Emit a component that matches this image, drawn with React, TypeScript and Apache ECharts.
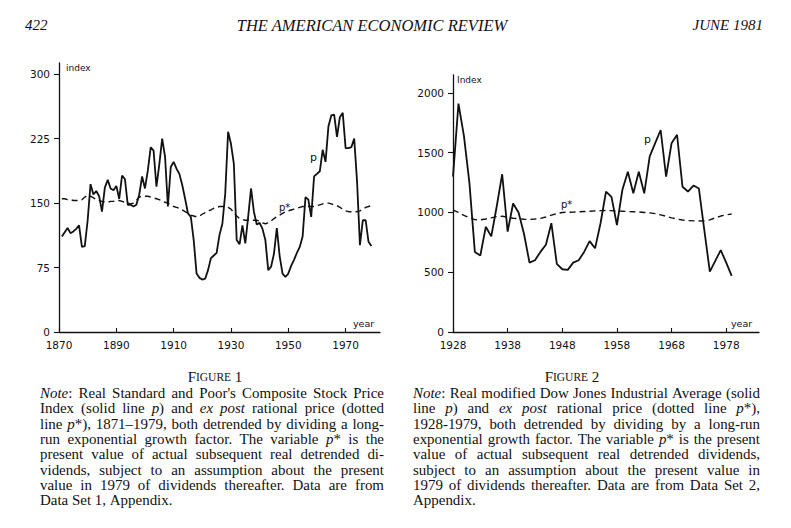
import React, { useEffect, useRef } from "react";
import * as echarts from "echarts";

const W = 791;
const H = 528;
const INK = "#111111";
const SERIF = '"Liberation Serif", "Times New Roman", serif';
const SANS = '"DejaVu Sans", sans-serif';

// ---------- Figure 1 data (S&P, 1871-1979) ----------
const fig1Start = 1871;
const fig1P = [
  111, 116, 121, 115, 117, 120, 124, 99, 100, 130,
  172, 160, 164, 158, 140, 168, 177, 167, 165, 170,
  155, 182, 178, 148, 148, 146, 148, 160, 181, 167,
  188, 215, 211, 169, 195, 225, 204, 146, 192, 198,
  190, 184, 171, 155, 138, 134, 107, 68, 63, 61,
  62, 72, 86, 89, 92, 113, 126, 161, 233, 219,
  196, 107, 102, 124, 103, 134, 167, 140, 125, 127,
  120, 107, 72, 76, 91, 121, 88, 68, 64, 68,
  77, 84, 92, 99, 111, 157, 154, 134, 181, 184,
  187, 212, 198, 239, 252, 253, 227, 250, 255, 214,
  214, 215, 225, 175, 101, 130, 130, 105, 100,
];
const fig1PStar = [
  155, 155, 154, 154, 153, 153, 153, 154, 157, 159,
  158, 156, 154, 153, 152, 151, 151, 152, 152, 153,
  153, 152, 151, 150, 149, 150, 153, 157, 158, 158,
  158, 157, 156, 155, 154, 152, 151, 150, 148, 146,
  145, 144, 142, 140, 138, 136, 135, 134, 135, 137,
  139, 141, 142, 144, 145, 146, 146, 146, 145, 143,
  139, 135, 132, 131, 130, 130, 130, 130, 130, 129,
  127, 126, 127, 129, 132, 134, 136, 138, 140, 141,
  142, 143, 144, 145, 146, 146, 146, 146, 146, 147,
  148, 149, 150, 150, 149, 148, 147, 145, 143, 141,
  140, 140, 140, 140, 141, 143, 145, 146, 147,
];
const fig1YTicks = [0, 75, 150, 225, 300];
const fig1XTicks = [1870, 1890, 1910, 1930, 1950, 1970];

// ---------- Figure 2 data (Dow Jones, 1928-1979) ----------
const fig2Start = 1928;
const fig2P = [
  1300, 1910, 1640, 1250, 670, 640, 880, 800, 1050, 1320,
  840, 1075, 1000, 820, 580, 600, 670, 730, 910, 570,
  525, 520, 580, 600, 670, 760, 700, 910, 1175, 1130,
  895, 1190, 1340, 1160, 1340, 1160, 1470, 1580, 1690, 1300,
  1580, 1650, 1215, 1175, 1225, 1200, 850, 505, 595, 685,
  580, 470,
];
const fig2PStar = [
  1020, 1000, 975, 955, 940, 938, 945, 955, 965, 968,
  960, 952, 948, 943, 942, 945, 950, 962, 978, 990,
  1000, 1002, 1003, 1005, 1008, 1010, 1013, 1015, 1017, 1015,
  1012, 1010, 1008, 1006, 1004, 1000, 997, 990, 980, 968,
  955, 945, 937, 932, 930, 929, 930, 938, 955, 970,
  980, 987,
];
const fig2YTicks = [0, 500, 1000, 1500, 2000];
const fig2XTicks = [1928, 1938, 1948, 1958, 1968, 1978];

// ---------- Text ----------
const headerLeft = "422";
const headerCenter = "THE AMERICAN ECONOMIC REVIEW";
const headerRight = "JUNE 1981";

// underscores mark italic
const note1 = [
  "_Note_: Real Standard and Poor's Composite Stock Price",
  "Index (solid line _p_) and _ex_ _post_ rational price (dotted",
  "line _p_*), 1871–1979, both detrended by dividing a long-",
  "run exponential growth factor. The variable _p_* is the",
  "present value of actual subsequent real detrended di-",
  "vidends, subject to an assumption about the present",
  "value in 1979 of dividends thereafter. Data are from",
  "Data Set 1, Appendix.",
];
const note2 = [
  "_Note_: Real modified Dow Jones Industrial Average (solid",
  "line _p_) and _ex_ _post_ rational price (dotted line _p_*),",
  "1928-1979, both detrended by dividing by a long-run",
  "exponential growth factor. The variable _p_* is the present",
  "value of actual subsequent real detrended dividends,",
  "subject to an assumption about the present value in",
  "1979 of dividends thereafter. Data are from Data Set 2,",
  "Appendix.",
];

function pairs(start: number, vals: number[]) {
  return vals.map((v, i) => [start + i, v]);
}

function parseWord(word: string) {
  const parts = word.split("_");
  const segs: { t: string; i: boolean }[] = [];
  parts.forEach((t, k) => {
    if (t.length) segs.push({ t, i: k % 2 === 1 });
  });
  return segs;
}

let _ctx: CanvasRenderingContext2D | null = null;
function measure(t: string, it: boolean, size: number) {
  if (!_ctx) _ctx = document.createElement("canvas").getContext("2d") as CanvasRenderingContext2D;
  _ctx.font = `${it ? "italic " : ""}${size}px ${SERIF}`;
  return _ctx.measureText(t).width;
}

function fitSize(lines: string[], width: number) {
  const s = 14;
  const nat = Math.max(
    ...lines.slice(0, -1).map((ln) => {
      const ws = ln.split(" ");
      return (
        ws.reduce((a, w) => a + parseWord(w).reduce((b, g) => b + measure(g.t, g.i, s), 0), 0) +
        (ws.length - 1) * measure(" ", false, s)
      );
    })
  );
  return (s * width * 0.99) / nat;
}

function buildNote(lines: string[], x0: number, width: number, y0: number, dy: number, size: number) {
  const rich = {
    n: { fontFamily: SERIF, fontSize: size, fill: INK, fontStyle: "normal" },
    i: { fontFamily: SERIF, fontSize: size, fill: INK, fontStyle: "italic" },
  };
  const els: any[] = [];
  lines.forEach((ln, li) => {
    const words = ln.split(" ");
    const segsList = words.map(parseWord);
    const widths = segsList.map((segs) => segs.reduce((b, g) => b + measure(g.t, g.i, size), 0));
    const total = widths.reduce((a, b) => a + b, 0);
    const last = li === lines.length - 1;
    const gap = last || words.length < 2 ? measure(" ", false, size) : (width - total) / (words.length - 1);
    let x = x0;
    const y = y0 + li * dy;
    segsList.forEach((segs, wi) => {
      els.push({
        type: "text",
        x,
        y,
        silent: true,
        style: {
          text: segs.map((g) => `{${g.i ? "i" : "n"}|${g.t}}`).join(""),
          rich,
          fontFamily: SERIF,
          fontSize: size,
          fill: INK,
          align: "left",
          verticalAlign: "middle",
          textAlign: "left",
          textVerticalAlign: "middle",
        },
      });
      x += widths[wi] + gap;
    });
  });
  return els;
}

function txt(x: number, y: number, text: string, opts: any = {}) {
  const align = opts.align || "left";
  return {
    type: "text",
    x,
    y,
    silent: true,
    style: {
      text,
      fill: INK,
      fontFamily: opts.fontFamily || SANS,
      fontSize: opts.fontSize || 9,
      fontStyle: opts.fontStyle || "normal",
      fontWeight: opts.fontWeight || "normal",
      rich: opts.rich,
      align,
      verticalAlign: "middle",
      textAlign: align,
      textVerticalAlign: "middle",
    },
  };
}

function axisCommon(ticks: number[], isX: boolean) {
  return {
    type: "value",
    axisLine: { show: true, onZero: false, lineStyle: { color: INK, width: 1.3 } },
    axisTick: {
      show: true,
      inside: isX,
      length: isX ? 4 : 5,
      customValues: ticks,
      lineStyle: { color: INK, width: 1.1 },
    },
    axisLabel: {
      show: true,
      customValues: ticks,
      color: INK,
      fontFamily: SANS,
      fontSize: 10.5,
      margin: isX ? 7 : 9,
      formatter: (v: number) => String(v),
    },
    splitLine: { show: false },
  };
}

export default function App() {
  const ref = useRef<HTMLDivElement>(null);
  useEffect(() => {
    if (!ref.current) return;
    const chart = echarts.init(ref.current, null, { renderer: "svg", width: W, height: H });
    const figRich = {
      a: { fontFamily: SERIF, fontSize: 15, fill: INK },
      b: { fontFamily: SERIF, fontSize: 11.5, fill: INK },
    };
    const noteSize = Math.min(fitSize(note1, 344), fitSize(note2, 347));
    const option: any = {
      animation: false,
      backgroundColor: "#ffffff",
      grid: [
        { left: 59, top: 63, width: 321, height: 269 },
        { left: 453, top: 75, width: 306, height: 257 },
      ],
      xAxis: [
        { ...axisCommon(fig1XTicks, true), gridIndex: 0, min: 1870, max: 1982 },
        { ...axisCommon(fig2XTicks, true), gridIndex: 1, min: 1928, max: 1984 },
      ],
      yAxis: [
        { ...axisCommon(fig1YTicks, false), gridIndex: 0, min: 0, max: 313 },
        { ...axisCommon(fig2YTicks, false), gridIndex: 1, min: 0, max: 2150 },
      ],
      series: [
        {
          type: "line",
          name: "p",
          xAxisIndex: 0,
          yAxisIndex: 0,
          data: pairs(fig1Start, fig1P),
          symbol: "none",
          lineStyle: { color: INK, width: 1.8 },
          z: 3,
        },
        {
          type: "line",
          name: "p*",
          xAxisIndex: 0,
          yAxisIndex: 0,
          data: pairs(fig1Start, fig1PStar),
          symbol: "none",
          lineStyle: { color: INK, width: 1.4, type: [6, 4] },
          z: 2,
        },
        {
          type: "line",
          name: "p",
          xAxisIndex: 1,
          yAxisIndex: 1,
          data: pairs(fig2Start, fig2P),
          symbol: "none",
          lineStyle: { color: INK, width: 1.8 },
          z: 3,
        },
        {
          type: "line",
          name: "p*",
          xAxisIndex: 1,
          yAxisIndex: 1,
          data: pairs(fig2Start, fig2PStar),
          symbol: "none",
          lineStyle: { color: INK, width: 1.4, type: [6, 4] },
          z: 2,
        },
      ],
      graphic: {
        elements: [
          txt(25, 25, headerLeft, { fontFamily: SERIF, fontSize: 15, fontStyle: "italic" }),
          txt(372, 25, headerCenter, { fontFamily: SERIF, fontSize: 16.5, fontStyle: "italic", align: "center" }),
          txt(763, 25, headerRight, { fontFamily: SERIF, fontSize: 15, fontStyle: "italic", align: "right" }),
          txt(66, 68, "index", { fontSize: 9 }),
          txt(457, 80, "Index", { fontSize: 9 }),
          txt(353, 323, "year", { fontSize: 9.5 }),
          txt(731, 323, "year", { fontSize: 9.5 }),
          txt(310, 157, "p", { fontSize: 11 }),
          txt(279, 207, "p*", { fontSize: 10 }),
          txt(644, 139, "p", { fontSize: 11 }),
          txt(561, 204, "p*", { fontSize: 10 }),
          txt(215, 377, "{a|F}{b|IGURE} {a|1}", { rich: figRich, fontFamily: SERIF, fontSize: 15, align: "center" }),
          txt(572, 377, "{a|F}{b|IGURE} {a|2}", { rich: figRich, fontFamily: SERIF, fontSize: 15, align: "center" }),
          ...buildNote(note1, 40, 344, 393, 15.3, noteSize),
          ...buildNote(note2, 413, 347, 393, 15.3, noteSize),
        ],
      },
    };
    chart.setOption(option);
    return () => chart.dispose();
  }, []);
  return (
    <div
      ref={ref}
      style={{ position: "absolute", left: 0, top: 0, width: W, height: H, background: "#fff" }}
    />
  );
}
